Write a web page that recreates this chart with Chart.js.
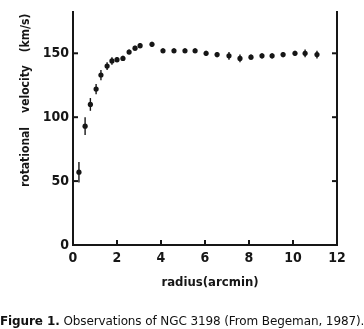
<!DOCTYPE html>
<html>
<head>
<meta charset="utf-8">
<script src="https://cdn.jsdelivr.net/npm/chart.js@4.4.1/dist/chart.umd.min.js"></script>
<style>
  html, body { margin: 0; padding: 0; background: #fff; }
  #wrap { position: relative; width: 364px; height: 329px; overflow: hidden; }
  #caption { position: absolute; left: 0; top: 314px; white-space: nowrap;
    font-family: "DejaVu Sans", sans-serif; font-size: 12px; letter-spacing: -0.1px; color: #111; }
  #caption b { font-weight: bold; }
</style>
</head>
<body>
<div id="wrap">
  <canvas id="c" width="364" height="329"></canvas>
  <div id="caption"><b>Figure 1.</b> Observations of NGC 3198 (From Begeman, 1987).</div>
</div>
<script>
const radius   = [0.27, 0.55, 0.79, 1.05, 1.27, 1.55, 1.77, 2.0, 2.27, 2.55, 2.82, 3.05, 3.59, 4.09, 4.59, 5.09, 5.55, 6.05, 6.55, 7.09, 7.59, 8.09, 8.59, 9.05, 9.55, 10.09, 10.55, 11.09];
const velocity = [57, 93, 110, 122, 133, 140, 144, 145, 146, 151, 154, 156, 157, 152, 152, 152, 152, 150, 149, 148, 146, 147, 148, 148, 149, 150, 150, 149];
const errors   = [8, 7, 5, 4, 4, 3, 3, 2, 2, 2, 2, 2, 2, 2, 2, 2, 2, 2, 2, 3, 3, 2, 2, 2, 2, 2, 3, 3];
const xTickValues = [0, 2, 4, 6, 8, 10, 12];
const yTickValues = [0, 50, 100, 150];
const xTitle = "radius(arcmin)";
const yTitleWords = ["rotational", "velocity", "(km/s)"];

const INK = '#161616';
const tickFont = { family: '"DejaVu Sans Condensed", "DejaVu Sans", sans-serif', weight: 'bold', size: 14 };

const decor = {
  id: 'decor',
  beforeDatasetsDraw(chart) {
    const { ctx, scales: { x, y } } = chart;
    ctx.save();
    ctx.strokeStyle = INK; ctx.lineWidth = 1.4;
    radius.forEach((r, i) => {
      const px = x.getPixelForValue(r);
      ctx.beginPath();
      ctx.moveTo(px, y.getPixelForValue(velocity[i] - errors[i]));
      ctx.lineTo(px, y.getPixelForValue(velocity[i] + errors[i]));
      ctx.stroke();
    });
    ctx.restore();
  },
  afterDraw(chart) {
    const { ctx, chartArea: a, scales: { x, y } } = chart;
    ctx.save();
    ctx.strokeStyle = INK; ctx.lineWidth = 2;
    xTickValues.slice(1, -1).forEach(t => {
      const px = x.getPixelForValue(t);
      ctx.beginPath(); ctx.moveTo(px, a.bottom); ctx.lineTo(px, a.bottom - 5); ctx.stroke();
    });
    yTickValues.slice(1).forEach(t => {
      const py = y.getPixelForValue(t);
      ctx.beginPath(); ctx.moveTo(a.left, py); ctx.lineTo(a.left + 5, py); ctx.stroke();
      ctx.beginPath(); ctx.moveTo(a.right, py); ctx.lineTo(a.right - 5, py); ctx.stroke();
    });
    ctx.fillStyle = INK;
    ctx.font = 'bold 13px "DejaVu Sans Condensed", "DejaVu Sans", sans-serif';
    ctx.textAlign = 'center'; ctx.textBaseline = 'middle';
    ctx.fillText(xTitle, 210, 283);
    const centers = [157, 89, 33];
    yTitleWords.forEach((w, i) => {
      ctx.save();
      ctx.translate(26, centers[i]);
      ctx.rotate(-Math.PI / 2);
      ctx.font = 'bold 12px "DejaVu Sans Condensed", "DejaVu Sans", sans-serif';
      ctx.fillText(w, 0, 0);
      ctx.restore();
    });
    ctx.restore();
  }
};

new Chart(document.getElementById('c'), {
  type: 'scatter',
  data: {
    datasets: [{
      data: radius.map((r, i) => ({ x: r, y: velocity[i] })),
      pointRadius: 2.6,
      pointBackgroundColor: INK,
      pointBorderWidth: 0
    }]
  },
  options: {
    responsive: false,
    animation: false,
    layout: { padding: { top: 0, left: 0, right: 0, bottom: 37 } },
    plugins: { legend: { display: false }, tooltip: { enabled: false } },
    scales: {
      x: {
        type: 'linear', min: 0, max: 12,
        afterBuildTicks(s) { s.ticks = xTickValues.map(v => ({ value: v })); },
        ticks: { font: tickFont, color: INK, padding: 5, maxRotation: 0 },
        grid: { display: false, drawTicks: false },
        border: { display: true, color: INK, width: 2 },
        afterFit(s) { s.height = 47; }
      },
      y: {
        min: 0, max: 182,
        afterBuildTicks(s) { s.ticks = yTickValues.map(v => ({ value: v })); },
        ticks: { font: tickFont, color: INK, padding: 4 },
        grid: { display: false, drawTicks: false },
        border: { display: true, color: INK, width: 2 },
        afterFit(s) { s.width = 73; }
      },
      y2: {
        position: 'right', min: 0, max: 182,
        ticks: { display: false },
        grid: { display: false, drawTicks: false },
        border: { display: true, color: INK, width: 2 },
        afterFit(s) { s.width = 27; }
      }
    }
  },
  plugins: [decor]
});
</script>
</body>
</html>
